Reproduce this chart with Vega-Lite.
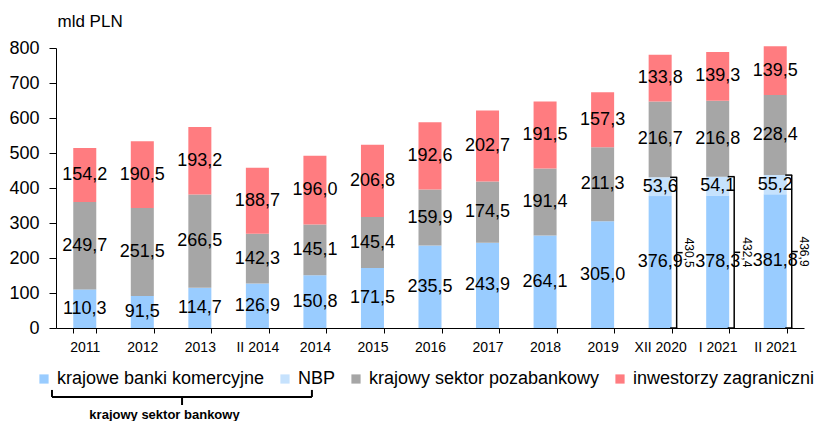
{
  "$schema": "https://vega.github.io/schema/vega-lite/v6.json",
  "width": 748,
  "height": 280,
  "autosize": {"type": "none"},
  "padding": {"left": 56, "top": 48, "right": 22, "bottom": 93},
  "background": "#ffffff",
  "config": {
    "view": {"stroke": null},
    "font": "Liberation Sans",
    "locale": {"number": {"decimal": ",", "thousands": " ", "grouping": [3], "currency": ["", " zł"]}},
    "axis": {"domainColor": "#000000", "tickColor": "#000000", "labelColor": "#000000", "titleColor": "#000000", "grid": false, "labelFont": "Liberation Sans", "titleFont": "Liberation Sans", "domainWidth": 1, "tickWidth": 1, "labelOverlap": false},
    "axisY": {"tickCount": 9, "labelOverlap": false, "labelFontSize": 18}
  },
  "datasets": {
    "zadluzenie": [
      {"okres": "2011", "seria": "krajowe banki komercyjne", "nr": 1, "wartosc": 110.3},
      {"okres": "2011", "seria": "krajowy sektor pozabankowy", "nr": 3, "wartosc": 249.7},
      {"okres": "2011", "seria": "inwestorzy zagraniczni", "nr": 4, "wartosc": 154.2},
      {"okres": "2012", "seria": "krajowe banki komercyjne", "nr": 1, "wartosc": 91.5},
      {"okres": "2012", "seria": "krajowy sektor pozabankowy", "nr": 3, "wartosc": 251.5},
      {"okres": "2012", "seria": "inwestorzy zagraniczni", "nr": 4, "wartosc": 190.5},
      {"okres": "2013", "seria": "krajowe banki komercyjne", "nr": 1, "wartosc": 114.7},
      {"okres": "2013", "seria": "krajowy sektor pozabankowy", "nr": 3, "wartosc": 266.5},
      {"okres": "2013", "seria": "inwestorzy zagraniczni", "nr": 4, "wartosc": 193.2},
      {"okres": "II 2014", "seria": "krajowe banki komercyjne", "nr": 1, "wartosc": 126.9},
      {"okres": "II 2014", "seria": "krajowy sektor pozabankowy", "nr": 3, "wartosc": 142.3},
      {"okres": "II 2014", "seria": "inwestorzy zagraniczni", "nr": 4, "wartosc": 188.7},
      {"okres": "2014", "seria": "krajowe banki komercyjne", "nr": 1, "wartosc": 150.8},
      {"okres": "2014", "seria": "krajowy sektor pozabankowy", "nr": 3, "wartosc": 145.1},
      {"okres": "2014", "seria": "inwestorzy zagraniczni", "nr": 4, "wartosc": 196.0},
      {"okres": "2015", "seria": "krajowe banki komercyjne", "nr": 1, "wartosc": 171.5},
      {"okres": "2015", "seria": "krajowy sektor pozabankowy", "nr": 3, "wartosc": 145.4},
      {"okres": "2015", "seria": "inwestorzy zagraniczni", "nr": 4, "wartosc": 206.8},
      {"okres": "2016", "seria": "krajowe banki komercyjne", "nr": 1, "wartosc": 235.5},
      {"okres": "2016", "seria": "krajowy sektor pozabankowy", "nr": 3, "wartosc": 159.9},
      {"okres": "2016", "seria": "inwestorzy zagraniczni", "nr": 4, "wartosc": 192.6},
      {"okres": "2017", "seria": "krajowe banki komercyjne", "nr": 1, "wartosc": 243.9},
      {"okres": "2017", "seria": "krajowy sektor pozabankowy", "nr": 3, "wartosc": 174.5},
      {"okres": "2017", "seria": "inwestorzy zagraniczni", "nr": 4, "wartosc": 202.7},
      {"okres": "2018", "seria": "krajowe banki komercyjne", "nr": 1, "wartosc": 264.1},
      {"okres": "2018", "seria": "krajowy sektor pozabankowy", "nr": 3, "wartosc": 191.4},
      {"okres": "2018", "seria": "inwestorzy zagraniczni", "nr": 4, "wartosc": 191.5},
      {"okres": "2019", "seria": "krajowe banki komercyjne", "nr": 1, "wartosc": 305.0},
      {"okres": "2019", "seria": "krajowy sektor pozabankowy", "nr": 3, "wartosc": 211.3},
      {"okres": "2019", "seria": "inwestorzy zagraniczni", "nr": 4, "wartosc": 157.3},
      {"okres": "XII 2020", "seria": "krajowe banki komercyjne", "nr": 1, "wartosc": 376.9},
      {"okres": "XII 2020", "seria": "NBP", "nr": 2, "wartosc": 53.6},
      {"okres": "XII 2020", "seria": "krajowy sektor pozabankowy", "nr": 3, "wartosc": 216.7},
      {"okres": "XII 2020", "seria": "inwestorzy zagraniczni", "nr": 4, "wartosc": 133.8},
      {"okres": "I 2021", "seria": "krajowe banki komercyjne", "nr": 1, "wartosc": 378.3},
      {"okres": "I 2021", "seria": "NBP", "nr": 2, "wartosc": 54.1},
      {"okres": "I 2021", "seria": "krajowy sektor pozabankowy", "nr": 3, "wartosc": 216.8},
      {"okres": "I 2021", "seria": "inwestorzy zagraniczni", "nr": 4, "wartosc": 139.3},
      {"okres": "II 2021", "seria": "krajowe banki komercyjne", "nr": 1, "wartosc": 381.8},
      {"okres": "II 2021", "seria": "NBP", "nr": 2, "wartosc": 55.2},
      {"okres": "II 2021", "seria": "krajowy sektor pozabankowy", "nr": 3, "wartosc": 228.4},
      {"okres": "II 2021", "seria": "inwestorzy zagraniczni", "nr": 4, "wartosc": 139.5}
    ],
    "klamry": [
      {"okres": "XII 2020", "suma": 430.5},
      {"okres": "I 2021", "suma": 432.4},
      {"okres": "II 2021", "suma": 436.9}
    ],
    "jeden": [{"k": 1}]
  },
  "layer": [
    {
      "data": {"name": "zadluzenie"},
      "mark": {"type": "bar"},
      "encoding": {
        "x": {
          "field": "okres", "type": "nominal",
          "scale": {"domain": ["2011", "2012", "2013", "II 2014", "2014", "2015", "2016", "2017", "2018", "2019", "XII 2020", "I 2021", "II 2021"], "paddingInner": 0.6, "paddingOuter": 0.3},
          "axis": {"labelAngle": 0, "labelFontSize": 14, "tickSize": 5, "labelPadding": 7, "tickBand": "extent", "title": "krajowy sektor bankowy", "titleFontSize": 13, "titleFontWeight": "bold", "titleX": 108, "titleY": 86, "titleAlign": "center", "titleBaseline": "middle"}
        },
        "y": {
          "field": "wartosc", "type": "quantitative", "stack": "zero",
          "scale": {"domain": [0, 800], "nice": false},
          "axis": {"values": [0, 100, 200, 300, 400, 500, 600, 700, 800], "tickCount": 9, "labelOverlap": false, "labelFontSize": 18, "tickSize": 7, "labelPadding": 10, "title": "mld PLN", "titleAngle": 0, "titleAlign": "left", "titleBaseline": "alphabetic", "titleX": 1, "titleY": -22, "titleFontSize": 17, "titleFontWeight": "normal"}
        },
        "color": {
          "field": "seria", "type": "nominal",
          "scale": {"domain": ["krajowe banki komercyjne", "NBP", "krajowy sektor pozabankowy", "inwestorzy zagraniczni"], "range": ["#99ccff", "#c6e2fd", "#a6a6a6", "#ff7c80"]},
          "legend": {"orient": "none", "legendX": -21, "legendY": 322, "direction": "horizontal", "title": null, "labelFontSize": 18, "labelColor": "#000000", "labelFont": "Liberation Sans", "symbolType": "square", "symbolSize": 85, "symbolStrokeWidth": 0, "columnPadding": 11, "labelOffset": 4, "padding": 0, "labelLimit": 400}
        },
        "order": {"field": "nr", "type": "quantitative"}
      }
    },
    {
      "data": {"name": "zadluzenie"},
      "mark": {"type": "text", "fontSize": 18, "color": "#000000", "align": "center", "baseline": "middle"},
      "encoding": {
        "x": {"field": "okres", "type": "nominal"},
        "y": {"field": "wartosc", "type": "quantitative", "stack": "zero", "bandPosition": 0.5},
        "detail": {"field": "seria", "type": "nominal"},
        "order": {"field": "nr", "type": "quantitative"},
        "text": {"field": "wartosc", "type": "quantitative", "format": ".1f"}
      }
    },
    {
      "data": {"name": "klamry"},
      "mark": {"type": "rule", "color": "#000000", "strokeWidth": 1.5, "xOffset": 16.5},
      "encoding": {
        "x": {"field": "okres", "type": "nominal"},
        "y": {"field": "suma", "type": "quantitative"},
        "y2": {"datum": 0}
      }
    },
    {
      "data": {"name": "klamry"},
      "mark": {"type": "tick", "color": "#000000", "thickness": 1.5, "size": 7, "xOffset": 13.5, "opacity": 1},
      "encoding": {
        "x": {"field": "okres", "type": "nominal"},
        "y": {"field": "suma", "type": "quantitative"}
      }
    },
    {
      "data": {"name": "klamry"},
      "mark": {"type": "tick", "color": "#000000", "thickness": 1.5, "size": 7, "xOffset": 13.5, "opacity": 1},
      "encoding": {
        "x": {"field": "okres", "type": "nominal"},
        "y": {"datum": 0}
      }
    },
    {
      "data": {"name": "klamry"},
      "mark": {"type": "tick", "color": "#000000", "thickness": 1.5, "size": 6, "xOffset": 19.5, "opacity": 1},
      "encoding": {
        "x": {"field": "okres", "type": "nominal"},
        "y": {"field": "suma", "type": "quantitative", "stack": "zero", "bandPosition": 0.5}
      }
    },
    {
      "data": {"name": "klamry"},
      "mark": {"type": "text", "fontSize": 12, "color": "#000000", "angle": 90, "align": "center", "baseline": "middle", "xOffset": 29},
      "encoding": {
        "x": {"field": "okres", "type": "nominal"},
        "y": {"field": "suma", "type": "quantitative", "stack": "zero", "bandPosition": 0.5},
        "text": {"field": "suma", "type": "quantitative", "format": ".1f"}
      }
    },
    {
      "data": {"name": "jeden"},
      "mark": {"type": "rule", "color": "#000000", "strokeWidth": 2, "xOffset": -32.8, "x2Offset": -3},
      "encoding": {
        "x": {"datum": "2011"},
        "x2": {"datum": "2014"},
        "y": {"datum": -197}
      }
    },
    {
      "data": {"name": "jeden"},
      "mark": {"type": "rule", "color": "#000000", "strokeWidth": 2, "xOffset": -32.8},
      "encoding": {
        "x": {"datum": "2011"},
        "y": {"datum": -197},
        "y2": {"datum": -177}
      }
    },
    {
      "data": {"name": "jeden"},
      "mark": {"type": "rule", "color": "#000000", "strokeWidth": 2, "xOffset": -3},
      "encoding": {
        "x": {"datum": "2014"},
        "y": {"datum": -197},
        "y2": {"datum": -177}
      }
    },
    {
      "data": {"name": "jeden"},
      "mark": {"type": "rule", "color": "#000000", "strokeWidth": 2, "xOffset": -17.8},
      "encoding": {
        "x": {"datum": "2013"},
        "y": {"datum": -197},
        "y2": {"datum": -220}
      }
    }
  ]
}
